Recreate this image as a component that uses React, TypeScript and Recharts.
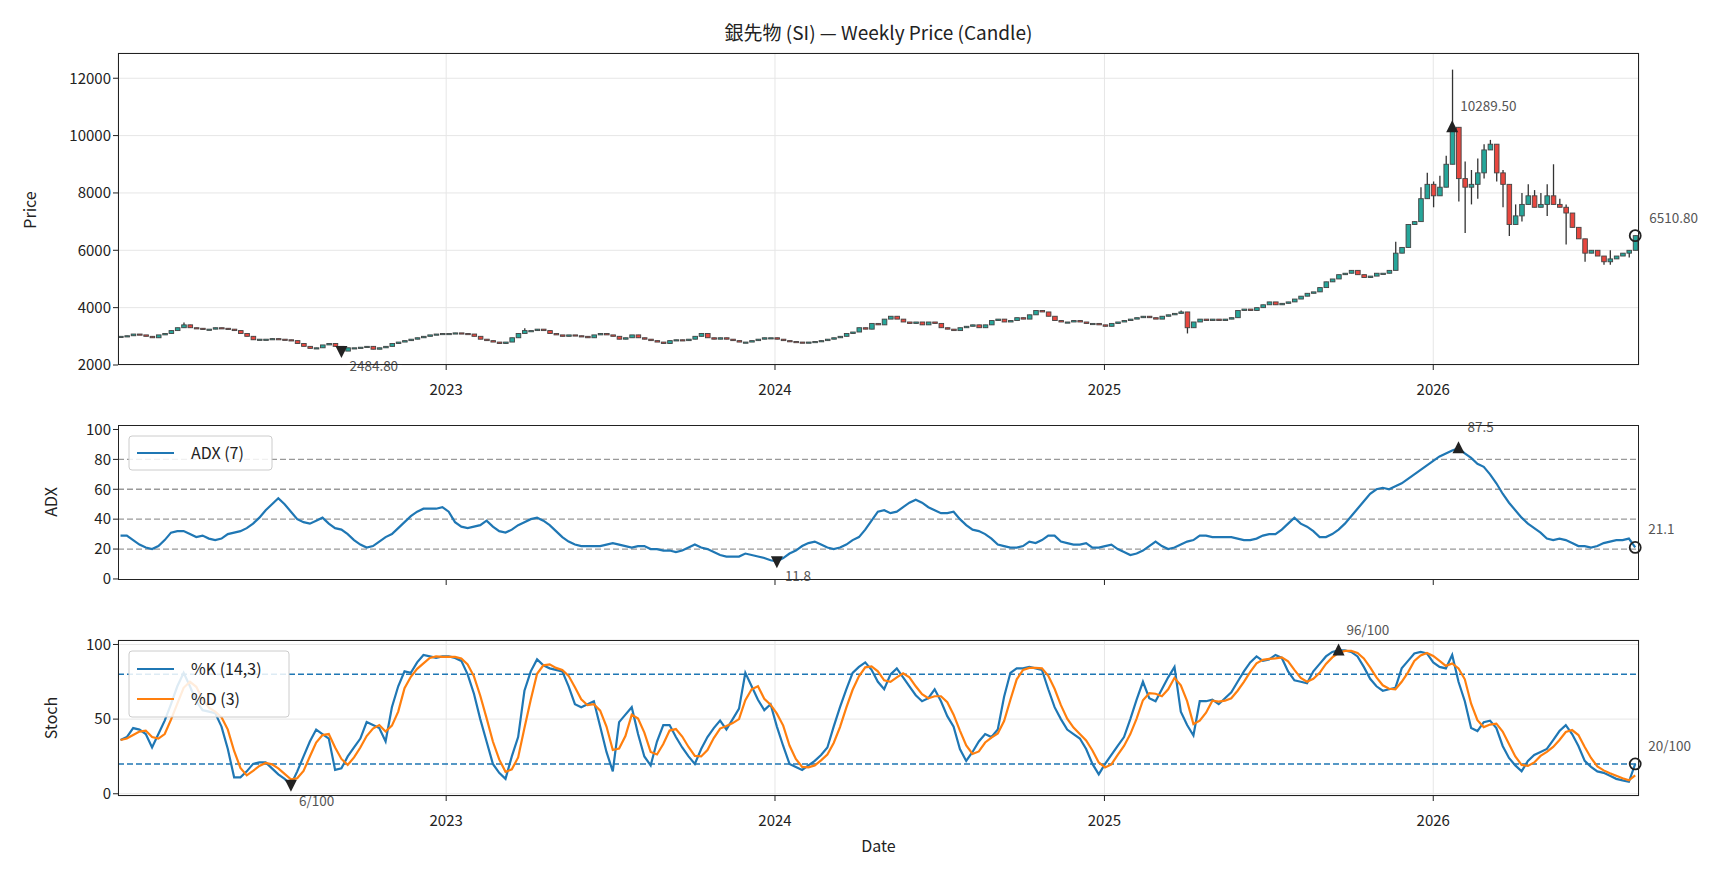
import React from 'react';
import {
  ComposedChart, Bar, Line, XAxis, YAxis, CartesianGrid, ReferenceLine, ReferenceDot,
} from 'recharts';

const FONT = '"Noto Sans CJK JP", "Noto Sans", sans-serif';

// weekly closes, 2022-01 .. 2026-08
const closes = [
  3000, 3020, 3080, 3050, 3000, 2950, 3050, 3100, 3200, 3300,
  3400, 3300, 3280, 3250, 3250, 3300, 3280, 3250, 3200, 3100,
  3000, 2880, 2900, 2900, 2920, 2900, 2880, 2850, 2750, 2650,
  2580, 2600, 2700, 2750, 2650, 2484.8, 2600, 2600, 2620, 2650,
  2550, 2600, 2650, 2750, 2800, 2850, 2900, 2950, 3000, 3050,
  3080, 3100, 3100, 3120, 3100, 3080, 3000, 2900, 2850, 2800,
  2750, 2800, 2950, 3100, 3200, 3200, 3250, 3200, 3100, 3050,
  3000, 3050, 3020, 3000, 2950, 3050, 3100, 3050, 3000, 2900,
  2950, 3050, 2950, 2900, 2850, 2800, 2750, 2850, 2880, 2850,
  2900, 3000, 3100, 2950, 2900, 2950, 2900, 2850, 2800, 2800,
  2850, 2900, 2950, 2950, 2900, 2850, 2820, 2800, 2780, 2800,
  2820, 2850, 2900, 2950, 3000, 3100, 3150, 3300, 3250, 3450,
  3400, 3600, 3700, 3600, 3500, 3450, 3500, 3400, 3500, 3450,
  3300, 3250, 3200, 3300, 3350, 3400, 3300, 3400, 3550, 3600,
  3500, 3550, 3650, 3600, 3750, 3900, 3850, 3700, 3550, 3500,
  3500, 3550, 3500, 3450, 3450, 3400, 3350, 3450, 3500, 3550,
  3600, 3650, 3700, 3650, 3600, 3700, 3750, 3800, 3850, 3300,
  3500, 3600, 3550, 3600, 3550, 3600, 3650, 3900, 3950, 3900,
  4000, 4100, 4200, 4100, 4150, 4200, 4300, 4400, 4500, 4550,
  4700, 4900, 5000, 5150, 5200, 5300, 5150, 5050, 5100, 5200,
  5200, 5300, 5900, 6100, 6900, 7000, 7800, 8300, 7900, 8200,
  9000, 10289.5, 8500, 8200, 8300, 8700, 9500, 9700, 8700, 8300,
  6900, 7200, 7600, 7900, 7500, 7600, 7900, 7600, 7500, 7300,
  6800, 6400, 5900, 6000, 5800, 5600, 5700, 5800, 5900, 6000, 6510.8,
];

// visible wick extremes (week index -> price)
const highs: Record<number, number> = {
  10: 3480, 64: 3280, 168: 3900, 202: 6300, 206: 8200, 207: 8700, 208: 8400, 209: 8600,
  210: 9300, 211: 12300, 212: 10300, 213: 9100, 214: 8800, 215: 9200, 216: 9700, 217: 9850,
  218: 9300, 219: 8800, 220: 7900, 221: 7600, 222: 8000, 223: 8300, 224: 8100, 225: 8000,
  226: 8300, 227: 9000, 228: 7800, 229: 7600, 230: 7200, 231: 6800, 232: 6300, 236: 6000,
};
const lows: Record<number, number> = {
  169: 3100, 208: 7500, 212: 7700, 213: 6600, 214: 7600, 215: 7800, 216: 8500, 218: 8400,
  219: 7500, 220: 6500, 221: 6900, 222: 7000, 226: 7200, 229: 6200, 232: 5600, 235: 5500,
  236: 5500, 239: 5750,
};

const adx = [
  29, 29, 26, 23, 21, 20, 22, 26, 31, 32,
  32, 30, 28, 29, 27, 26, 27, 30, 31, 32,
  34, 37, 41, 46, 50, 54, 50, 45, 40, 38,
  37, 39, 41, 37, 34, 33, 30, 26, 23, 21,
  22, 25, 28, 30, 34, 38, 42, 45, 47, 47,
  47, 48, 45, 38, 35, 34, 35, 36, 39, 35,
  32, 31, 33, 36, 38, 40, 41, 39, 36, 32,
  28, 25, 23, 22, 22, 22, 22, 23, 24, 23,
  22, 21, 22, 22, 20, 20, 19, 19, 18, 19,
  21, 23, 21, 20, 18, 16, 15, 15, 15, 17,
  16, 15, 14, 12.5, 11.8, 14, 17, 19, 22, 24,
  25, 23, 21, 20, 21, 23, 26, 28, 33, 39,
  45, 46, 44, 45, 48, 51, 53, 51, 48, 46,
  44, 44, 45, 40, 36, 33, 32, 30, 27, 23,
  22, 21, 21, 22, 25, 24, 26, 29, 29, 25,
  24, 23, 23, 24, 21, 21, 22, 23, 20, 18,
  16, 17, 19, 22, 25, 22, 20, 21, 23, 25,
  26, 29, 29, 28, 28, 28, 28, 27, 26, 26,
  27, 29, 30, 30, 33, 37, 41, 37, 35, 32,
  28, 28, 30, 33, 37, 42, 47, 52, 57, 60,
  61, 60, 62, 64, 67, 70, 73, 76, 79, 82,
  84, 86, 87.5, 84, 81, 77, 75, 70, 64, 57,
  51, 46, 41, 37, 34, 31, 27, 26, 27, 26,
  24, 22, 22, 21, 22, 24, 25, 26, 26, 27, 21.1,
];

const stochK = [
  36, 38, 44, 43, 40, 31, 40, 49, 60, 72,
  81, 72, 62, 56, 55, 54, 45, 30, 11, 11,
  15, 20, 21, 21, 17, 13, 10, 6, 15, 25,
  35, 43, 40, 37, 16, 17, 25, 31, 37, 48,
  46, 44, 35, 58, 72, 82, 81, 88, 93, 92,
  91, 92, 92, 91, 89, 80, 67, 50, 35, 20,
  14, 10, 25, 38, 69, 82, 90, 86, 84, 83,
  82, 72, 60, 58, 60, 62, 45, 28, 15, 48,
  53, 58, 40, 25, 19, 35, 46, 46, 38, 31,
  25, 20, 30, 38, 44, 49, 43, 50, 57, 81,
  72, 63, 56, 60, 45, 32, 20, 18, 16, 19,
  22, 26, 31, 45, 58, 70, 81, 85, 88, 83,
  75, 70, 80, 84, 78, 72, 66, 62, 64, 70,
  62, 52, 45, 30, 22, 28, 35, 40, 38, 43,
  65, 81, 84, 84, 85, 84, 83, 70, 58, 50,
  43, 40, 37, 30, 20, 13, 20, 26, 32, 38,
  50, 63, 75, 64, 62, 70, 78, 85, 55, 46,
  39, 62, 62, 63, 60, 64, 68, 75, 82, 88,
  92, 89, 90, 93, 91, 82, 76, 75, 74, 82,
  87, 92, 95, 96, 96, 95, 92, 85, 77, 72,
  69, 70, 71, 84, 89, 94, 95, 94, 88, 85,
  84, 93, 75, 62, 44, 42, 48, 49, 44, 32,
  24, 19, 15, 22, 26, 28, 30, 36, 42, 46,
  40, 32, 22, 18, 15, 14, 12, 10, 9, 8, 20,
];

const yearTicks = [51.6, 103.7, 155.9, 208.0];
const yearLabels = ['2023', '2024', '2025', '2026'];

const data = closes.map((c, i) => {
  const open = i === 0 ? c : closes[i - 1];
  const hi = Math.max(highs[i] ?? 0, open, c);
  const lo = Math.min(lows[i] ?? Infinity, open, c);
  const high = hi === lo ? hi + 1 : hi;
  const d = i < 2 ? stochK.slice(0, i + 1) : stochK.slice(i - 2, i + 1);
  return {
    i, open, close: c, high, low: lo, range: [lo, high],
    adx: adx[i], k: stochK[i], d: d.reduce((a, b) => a + b, 0) / d.length,
  };
});

const argMax = (a: number[]) => a.indexOf(Math.max(...a));
const argMin = (a: number[]) => a.indexOf(Math.min(...a));
const last = closes.length - 1;

const UP = '#26a69a';
const DOWN = '#e8473f';

const Candle = (p: any) => {
  const { x, y, width, height, payload } = p;
  if (!payload || height == null) return null;
  const { open, close, high, low } = payload;
  const cx = x + width / 2;
  const py = (v: number) => y + ((high - v) / (high - low)) * height;
  const top = py(Math.max(open, close));
  const bot = py(Math.min(open, close));
  return (
    <g>
      <line x1={cx} x2={cx} y1={y} y2={y + height} stroke="#333" strokeWidth={1.3} />
      <rect x={cx - 2.3} y={top} width={4.6} height={Math.max(bot - top, 1.2)}
        fill={close >= open ? UP : DOWN} stroke="#444" strokeWidth={0.9} />
    </g>
  );
};

const annot = (text: string, kind: 'up' | 'down' | 'circle', dx: number, dy: number) => (p: any) => {
  const { cx, cy } = p;
  if (cx == null) return null;
  let mark;
  if (kind === 'up') mark = <path d={`M${cx - 6},${cy + 5} L${cx + 6},${cy + 5} L${cx},${cy - 7} Z`} fill="#222" />;
  else if (kind === 'down') mark = <path d={`M${cx - 6},${cy - 5} L${cx + 6},${cy - 5} L${cx},${cy + 7} Z`} fill="#222" />;
  else mark = <circle cx={cx} cy={cy} r={5.5} fill="none" stroke="#222" strokeWidth={1.8} />;
  const w = text.length * 7.2 + 4;
  return (
    <g>
      {mark}
      <rect x={cx + dx - 2} y={cy + dy - 11} width={w} height={15} fill="#fff" opacity={0.75} />
      <text x={cx + dx} y={cy + dy} fontSize={13.5} fill="#555" fontFamily={FONT}>{text}</text>
    </g>
  );
};

const xAxisProps = {
  dataKey: 'i', type: 'number' as const, domain: [-0.4, 240.6], ticks: yearTicks,
  allowDataOverflow: true, axisLine: false, tickSize: 5, tickLine: { stroke: '#222' },
};
const tickStyle = { fontSize: 15, fill: '#222', fontFamily: FONT };
const xTickStyle = { ...tickStyle, dy: 12 };
const fmtYear = (v: number) => yearLabels[yearTicks.indexOf(v)] ?? '';

const W = 1728;
const LEFT = 118;
const RIGHT = 1639;
const MARGIN = { left: LEFT - 70, right: W - RIGHT };

export default function App() {
  const pMax = argMax(closes);
  const pMin = argMin(closes);
  const aMax = argMax(adx);
  const aMin = argMin(adx);
  const kMax = argMax(stochK);
  const kMin = argMin(stochK);
  const frame = (top: number, bottom: number) => (
    <div style={{ position: 'absolute', left: LEFT, top, width: RIGHT - LEFT, height: bottom - top,
      border: '1.3px solid #222', boxSizing: 'border-box', pointerEvents: 'none' }} />
  );
  return (
    <div style={{ position: 'absolute', left: 0, top: 0, width: W, height: 878, background: '#fff', fontFamily: FONT }}>
      <div style={{ position: 'absolute', top: 0 }}>
        <ComposedChart width={W} height={400} data={data} margin={{ top: 53, bottom: 0, ...MARGIN }}>
          <CartesianGrid stroke="#e6e6e6" vertical horizontal />
          <XAxis {...xAxisProps} height={35} tick={xTickStyle} tickFormatter={fmtYear} />
          <YAxis domain={[2000, 12880]} ticks={[2000, 4000, 6000, 8000, 10000, 12000]} width={70}
            axisLine={false} tickSize={5} tickLine={{ stroke: '#222' }} tick={tickStyle} allowDataOverflow />
          <Bar dataKey="range" barSize={5} shape={Candle} isAnimationActive={false} />
          <ReferenceDot x={pMax} y={closes[pMax]} r={0} shape={annot(closes[pMax].toFixed(2), 'up', 8, -16)} />
          <ReferenceDot x={pMin} y={closes[pMin]} r={0} shape={annot(closes[pMin].toFixed(2), 'down', 8, 20)} />
          <ReferenceDot x={last} y={closes[last]} r={0} shape={annot(closes[last].toFixed(2), 'circle', 14, -13)} />
        </ComposedChart>
      </div>
      <div style={{ position: 'absolute', top: 400 }}>
        <ComposedChart width={W} height={200} data={data} margin={{ top: 25, bottom: 0, ...MARGIN }}>
          <XAxis {...xAxisProps} height={20} tick={{ ...tickStyle, fill: 'transparent' }} tickFormatter={() => ''} />
          <YAxis domain={[-0.7, 103]} ticks={[0, 20, 40, 60, 80, 100]} width={70}
            axisLine={false} tickSize={5} tickLine={{ stroke: '#222' }} tick={tickStyle} allowDataOverflow />
          {[20, 40, 60, 80].map((v) => (
            <ReferenceLine key={v} y={v} stroke="#999" strokeDasharray="6 3" strokeWidth={1.3} />
          ))}
          <Line dataKey="adx" stroke="#1f77b4" strokeWidth={2.2} dot={false} isAnimationActive={false} />
          <ReferenceDot x={aMax} y={adx[aMax]} r={0} shape={annot(adx[aMax].toFixed(1), 'up', 9, -16)} />
          <ReferenceDot x={aMin} y={adx[aMin]} r={0} shape={annot(adx[aMin].toFixed(1), 'down', 8, 20)} />
          <ReferenceDot x={last} y={adx[last]} r={0} shape={annot(adx[last].toFixed(1), 'circle', 13, -13)} />
        </ComposedChart>
      </div>
      <div style={{ position: 'absolute', top: 600 }}>
        <ComposedChart width={W} height={278} data={data} margin={{ top: 40, bottom: 0, ...MARGIN }}>
          <CartesianGrid stroke="#e6e6e6" vertical horizontal />
          <XAxis {...xAxisProps} height={82} tick={xTickStyle} tickFormatter={fmtYear}
            label={{ value: 'Date', position: 'insideBottom', offset: 26, fontSize: 16, fill: '#222', fontFamily: FONT }} />
          <YAxis domain={[-1.5, 103]} ticks={[0, 50, 100]} width={70}
            axisLine={false} tickSize={5} tickLine={{ stroke: '#222' }} tick={tickStyle} allowDataOverflow />
          <ReferenceLine y={80} stroke="#1f77b4" strokeDasharray="6 3" strokeWidth={1.5} />
          <ReferenceLine y={20} stroke="#1f77b4" strokeDasharray="6 3" strokeWidth={1.5} />
          <Line dataKey="k" stroke="#1f77b4" strokeWidth={2.2} dot={false} isAnimationActive={false} />
          <Line dataKey="d" stroke="#ff7f0e" strokeWidth={2.2} dot={false} isAnimationActive={false} />
          <ReferenceDot x={kMax} y={stochK[kMax]} r={0} shape={annot(`${stochK[kMax]}/100`, 'up', 8, -15)} />
          <ReferenceDot x={kMin} y={stochK[kMin]} r={0} shape={annot(`${stochK[kMin]}/100`, 'down', 8, 21)} />
          <ReferenceDot x={last} y={stochK[last]} r={0} shape={annot(`${stochK[last]}/100`, 'circle', 13, -13)} />
        </ComposedChart>
      </div>
      {frame(53, 365)}
      {frame(425, 580)}
      {frame(640, 796)}
      <svg width={W} height={878} style={{ position: 'absolute', left: 0, top: 0, pointerEvents: 'none' }}>
        <text x={(LEFT + RIGHT) / 2} y={40} textAnchor="middle" fontSize={19} fill="#222" fontFamily={FONT}>
          銀先物 (SI) — Weekly Price (Candle)
        </text>
        <text transform="translate(36,210) rotate(-90)" textAnchor="middle" fontSize={16} fill="#222" fontFamily={FONT}>Price</text>
        <text transform="translate(57,502) rotate(-90)" textAnchor="middle" fontSize={16} fill="#222" fontFamily={FONT}>ADX</text>
        <text transform="translate(57,718) rotate(-90)" textAnchor="middle" fontSize={16} fill="#222" fontFamily={FONT}>Stoch</text>
        <rect x={129} y={436} width={143} height={34} rx={3} fill="#fff" fillOpacity={0.85} stroke="#ccc" />
        <line x1={137} x2={174} y1={453} y2={453} stroke="#1f77b4" strokeWidth={2.2} />
        <text x={191} y={459} fontSize={16} fill="#222" fontFamily={FONT}>ADX (7)</text>
        <rect x={129} y={651} width={160} height={66} rx={3} fill="#fff" fillOpacity={0.85} stroke="#ccc" />
        <line x1={137} x2={174} y1={669} y2={669} stroke="#1f77b4" strokeWidth={2.2} />
        <text x={191} y={675} fontSize={16} fill="#222" fontFamily={FONT}>%K (14,3)</text>
        <line x1={137} x2={174} y1={699} y2={699} stroke="#ff7f0e" strokeWidth={2.2} />
        <text x={191} y={705} fontSize={16} fill="#222" fontFamily={FONT}>%D (3)</text>
      </svg>
    </div>
  );
}
